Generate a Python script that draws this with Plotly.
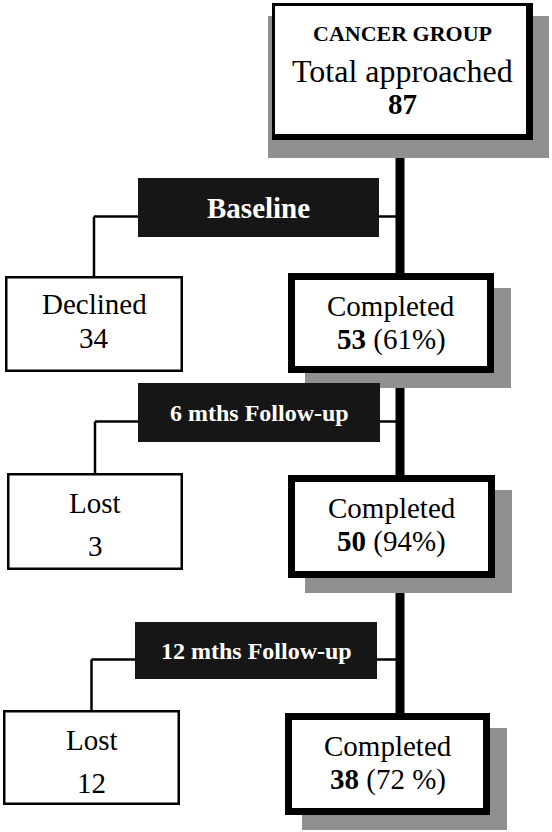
import plotly.graph_objects as go

# flow chart values
group_name = "CANCER GROUP"
total_approached = 87
stage_labels = ["Baseline", "6 mths Follow-up", "12 mths Follow-up"]
completed_n = [53, 50, 38]
completed_pct = ["61%", "94%", "72 %"]
dropout_labels = ["Declined", "Lost", "Lost"]
dropout_n = [34, 3, 12]

# geometry (pixels, y grows downward)
top_box = (272, 3, 533, 140)
completed_boxes = [(288, 273, 494, 373), (288, 475, 495, 578), (285, 713, 490, 815)]
dropout_boxes = [(5, 276, 183, 372), (7, 473, 183, 570), (3, 710, 180, 805)]
stage_boxes = [(138, 178, 379, 237), (138, 383, 380, 442), (135, 622, 377, 679)]
spine_x = 400
shadow_dx, shadow_dy = 17, 15

SERIF = "Liberation Serif"
SHADOW = "#909090"
DARK = "#161616"

fig = go.Figure()


def rect(x0, y0, x1, y1, fill, lw=0, color="black"):
    # outer edge given, inset by half line width
    h = lw / 2
    fig.add_shape(type="rect", xref="x", yref="y",
                  x0=x0 + h, y0=y0 + h, x1=x1 - h, y1=y1 - h,
                  fillcolor=fill,
                  line=dict(color=color, width=lw) if lw else dict(width=0))


def line(x0, y0, x1, y1, w=2.5):
    fig.add_shape(type="line", xref="x", yref="y", x0=x0, y0=y0, x1=x1, y1=y1,
                  line=dict(color="black", width=w))


def text(x, y, s, size, color="black"):
    fig.add_annotation(x=x, y=y, xref="x", yref="y", text=s, showarrow=False,
                       xanchor="center", yanchor="middle",
                       font=dict(family=SERIF, size=size, color=color))


# thick spine
line(spine_x, top_box[3], spine_x, completed_boxes[0][1], w=9)
line(spine_x, completed_boxes[0][3], spine_x, completed_boxes[1][1], w=9)
line(spine_x, completed_boxes[1][3], spine_x, completed_boxes[2][1], w=9)

# connectors from stage boxes
for (sx0, sy0, sx1, sy1), (dx0, dy0, dx1, dy1) in zip(stage_boxes, dropout_boxes):
    cy = (sy0 + sy1) / 2 + 9
    cx = (dx0 + dx1) / 2
    line(sx1, cy, spine_x, cy)
    line(cx, cy, sx0, cy)
    line(cx, cy, cx, dy0)

# top box with shadow
x0, y0, x1, y1 = top_box
rect(x0 - 4, y0 + 13, x1 + 16, y1 + 18, SHADOW)
rect(x0, y0, x1, y1, "white", lw=3)
rect(x1 - 7, y0, x1, y1, "black")
rect(x0, y1 - 6, x1, y1, "black")
cx = (x0 + x1) / 2
text(cx, 33, "<b>" + group_name + "</b>", 22)
text(cx, 71, "Total approached", 32)
text(cx, 104, "<b>%d</b>" % total_approached, 29)

# completed boxes
for (x0, y0, x1, y1), n, p in zip(completed_boxes, completed_n, completed_pct):
    rect(x0 + shadow_dx, y0 + shadow_dy, x1 + shadow_dx, y1 + shadow_dy, SHADOW)
    rect(x0, y0, x1, y1, "white", lw=7)
    cx = (x0 + x1) / 2
    text(cx, y0 + 33, "Completed", 29)
    text(cx, y0 + 66, "<b>%d</b> (%s)" % (n, p), 29)

# dropout boxes
for i, ((x0, y0, x1, y1), lab, n) in enumerate(zip(dropout_boxes, dropout_labels, dropout_n)):
    rect(x0, y0, x1, y1, "white", lw=2.5)
    cx = (x0 + x1) / 2
    if i == 0:
        text(cx, y0 + 28, lab, 29)
        text(cx, y0 + 62, str(n), 29)
    else:
        text(cx, y0 + 30, lab, 29)
        text(cx, y0 + 73, str(n), 29)

# stage label boxes
for (x0, y0, x1, y1), lab in zip(stage_boxes, stage_labels):
    rect(x0, y0, x1, y1, DARK)
    size = 29 if lab == "Baseline" else 24
    text((x0 + x1) / 2, (y0 + y1) / 2, "<b>" + lab + "</b>", size, color="white")

fig.update_layout(
    width=552, height=832,
    margin=dict(l=0, r=0, t=0, b=0),
    paper_bgcolor="white", plot_bgcolor="white",
    showlegend=False,
    xaxis=dict(range=[0, 552], visible=False, fixedrange=True),
    yaxis=dict(range=[832, 0], visible=False, fixedrange=True),
)

# drop the page's default body margin so the figure sits at the window corner
fig.write_html("out.html", config={"displayModeBar": False},
               post_script="document.body.style.margin='0';")
